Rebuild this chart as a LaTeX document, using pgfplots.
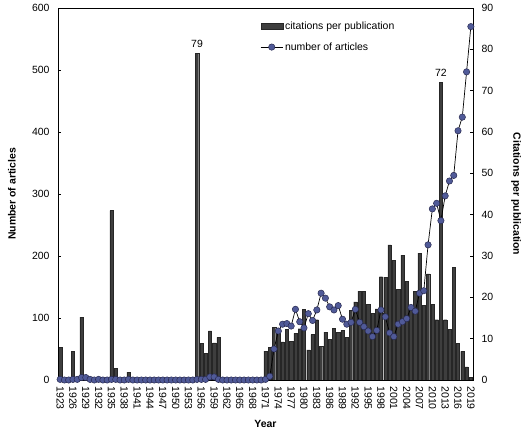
\documentclass[border=0pt]{standalone}
\usepackage{fontspec}
\setmainfont{Liberation Sans}
\usepackage{pgfplots}
\pgfplotsset{compat=1.18}
\usepackage{pgfplotstable}
\definecolor{barcol}{RGB}{62,62,62}
\definecolor{mkfill}{RGB}{80,90,152}
\definecolor{mkdraw}{RGB}{40,42,80}
\pgfplotsset{
  linelegend/.style={legend image code/.code={\draw[mark repeat=2,mark phase=2,##1] plot coordinates {(0bp,0bp) (11bp,0bp) (22bp,0bp)};}},
  barlegend/.style={legend image code/.code={\draw[fill=barcol,draw=black!85] (0bp,-3bp) rectangle (22bp,3bp);}},
}

\pgfplotstableread{
year cit
1923 7.9
1926 6.9
1928 15.2
1935 41
1936 2.8
1939 1.9
1955 79
1956 8.9
1957 6.5
1958 11.9
1959 9.0
1960 10.3
1971 7.0
1972 7.9
1973 12.8
1974 11.8
1975 9.2
1976 12.2
1977 9.3
1978 11.3
1979 12.4
1980 17.1
1981 7.3
1982 11.0
1983 14.6
1984 8.2
1985 11.6
1986 9.8
1987 12.5
1988 11.6
1989 12.0
1990 10.4
1991 16.8
1992 18.9
1993 21.5
1994 21.5
1995 18.3
1996 16.1
1997 17.2
1998 25.0
1999 24.9
2000 32.7
2001 28.9
2002 22.0
2003 30.2
2004 23.9
2005 18.0
2006 21.4
2007 30.7
2008 18.0
2009 25.7
2010 18.3
2011 14.6
2012 72
2013 14.6
2014 12.2
2015 27.2
2016 8.9
2017 6.9
2018 3.2
2019 0.6
}\bardata

\pgfplotstableread{
year art
1923 1
1924 0
1925 0
1926 1
1927 1
1928 4
1929 4
1930 1
1931 0
1932 1
1933 0
1934 0
1935 1
1936 1
1937 0
1938 0
1939 1
1940 0
1941 0
1942 0
1943 0
1944 0
1945 0
1946 0
1947 0
1948 0
1949 0
1950 0
1951 0
1952 0
1953 0
1954 0
1955 1
1956 1
1957 1
1958 5
1959 5
1960 1
1961 0
1962 0
1963 0
1964 0
1965 0
1966 0
1967 0
1968 0
1969 0
1970 0
1971 1
1972 6
1973 50
1974 79
1975 90
1976 91
1977 87
1978 114
1979 94
1980 84
1981 107
1982 96
1983 113
1984 140
1985 132
1986 118
1987 113
1988 120
1989 98
1990 90
1991 93
1992 114
1993 93
1994 86
1995 79
1996 70
1997 80
1998 113
1999 102
2000 76
2001 70
2002 90
2003 94
2004 99
2005 117
2006 111
2007 140
2008 144
2009 218
2010 276
2011 285
2012 257
2013 297
2014 321
2015 330
2016 402
2017 424
2018 497
2019 570
}\linedata

\begin{document}
\begin{tikzpicture}
\pgfplotsset{common/.style={
  scale only axis, width=415bp, height=372bp,
  xmin=1922.5, xmax=2019.5,
  font=\fontsize{10.5}{12.6}\selectfont,
  /pgf/number format/assume math mode=true,
  /pgf/number format/1000 sep={},
  tick align=inside, major tick length=3bp,
  axis line style={line width=0.6pt},
  tick style={line width=0.5pt, black},
}}
\begin{axis}[common,
  ymin=0, ymax=90, ytick={0,10,...,90},
  ytick pos=right, yticklabel pos=right,
  yticklabel style={xshift=5bp},
  xtick={1923,1926,...,2019}, xtick pos=left,
  xticklabel style={yshift=-3bp, rotate=-90, anchor=west},
  every axis y label/.style={at={(axis description cs:1,0.5)}, anchor=center, xshift=43bp, rotate=-90},
  ylabel={\bfseries Citations per publication},
  every axis x label/.style={at={(axis description cs:0.5,0)}, anchor=center, yshift=-44bp},
  xlabel={\bfseries Year},
]
\addplot[ybar, bar width=0.76, fill=barcol, draw=black!85, line width=0.3pt] table[x=year,y=cit]{\bardata};
\node[above, inner sep=2bp, yshift=4bp] at (axis cs:1955,79) {79};
\node[above, inner sep=2bp, yshift=4bp] at (axis cs:2012,72) {72};
\end{axis}
\begin{axis}[common,
  ymin=0, ymax=600, ytick={0,100,...,600},
  ytick pos=left, xtick=\empty,
  yticklabel style={xshift=-5bp},
  every axis y label/.style={at={(axis description cs:0,0.5)}, anchor=center, xshift=-46bp, rotate=90},
  ylabel={\bfseries Number of articles},
  legend style={at={(0.48,0.975)}, anchor=north west, draw=none, fill=none, row sep=8bp, cells={anchor=west}},
]
\addlegendimage{barlegend}
\addlegendentry{citations per publication}
\addplot[black, line width=0.7pt, mark=*, mark size=3.2bp,
  mark options={fill=mkfill, draw=mkdraw, line width=0.5pt}, linelegend]
  table[x=year,y=art]{\linedata};
\addlegendentry{number of articles}
\end{axis}
\pgfresetboundingbox
\path[use as bounding box] (-58bp,-52bp) rectangle (470bp,380bp);
\end{tikzpicture}
\end{document}
